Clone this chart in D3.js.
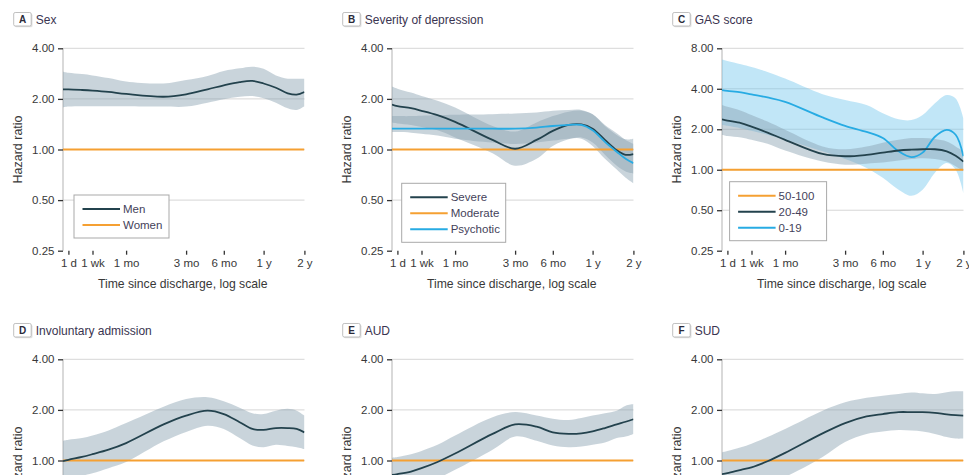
<!DOCTYPE html>
<html>
<head>
<meta charset="utf-8">
<script src="https://cdn.jsdelivr.net/npm/d3@7"></script>
<style>
  body { margin: 0; background: #fff; overflow: hidden; }
  svg text { font-family: "Liberation Sans", Arial, sans-serif; }
</style>
</head>
<body>
<svg id="chart" width="969" height="600"></svg>
<script>
// sample times (days since discharge) shared by all curves
const days = [0.65, 1, 3, 7, 14, 30, 60, 91, 135, 182, 240, 300, 365, 450, 550, 640, 730];
const xTickDays = [1, 7, 30, 91, 182, 365, 730];
const xTickLabels = ["1 d", "1 wk", "1 mo", "3 mo", "6 mo", "1 y", "2 y"];
const yTicks = [0.25, 0.5, 1, 2, 4];
const yTicksGas = [0.25, 0.5, 1, 2, 4, 8];
const refHR = [1, 1];
const refDays = [0.65, 730];

// A Sex
const menHR = [2.28, 2.28, 2.26, 2.24, 2.20, 2.14, 2.06, 2.13, 2.28, 2.41, 2.52, 2.56, 2.47, 2.33, 2.16, 2.12, 2.20];
const menHi = [2.90, 2.86, 2.81, 2.76, 2.66, 2.54, 2.47, 2.59, 2.74, 2.93, 3.04, 3.11, 3.02, 2.76, 2.64, 2.64, 2.64];
const menLo = [1.78, 1.80, 1.81, 1.81, 1.81, 1.81, 1.80, 1.80, 1.90, 1.99, 2.06, 2.08, 2.02, 1.90, 1.76, 1.72, 1.81];

// B Severity of depression
const severeHR = [1.85, 1.81, 1.76, 1.70, 1.60, 1.46, 1.14, 1.01, 1.14, 1.29, 1.40, 1.41, 1.33, 1.14, 0.99, 0.93, 0.94];
const severeHi = [2.37, 2.30, 2.18, 2.08, 1.95, 1.78, 1.38, 1.28, 1.45, 1.58, 1.68, 1.70, 1.62, 1.38, 1.22, 1.15, 1.16];
const severeLo = [1.45, 1.43, 1.40, 1.36, 1.30, 1.18, 0.95, 0.80, 0.88, 1.05, 1.15, 1.18, 1.10, 0.93, 0.80, 0.74, 0.72];
const psychHR = [1.33, 1.33, 1.33, 1.33, 1.33, 1.33, 1.33, 1.33, 1.35, 1.38, 1.40, 1.40, 1.30, 1.11, 0.97, 0.88, 0.83];
const psychHi = [1.58, 1.58, 1.58, 1.59, 1.60, 1.61, 1.62, 1.64, 1.66, 1.70, 1.72, 1.72, 1.62, 1.40, 1.25, 1.14, 1.08];
const psychLo = [1.27, 1.27, 1.26, 1.24, 1.21, 1.16, 1.10, 1.08, 1.10, 1.13, 1.16, 1.16, 1.05, 0.88, 0.76, 0.68, 0.63];

// C GAS score
const gas20HR = [2.37, 2.32, 2.22, 2.09, 1.89, 1.67, 1.31, 1.26, 1.29, 1.34, 1.39, 1.41, 1.42, 1.42, 1.37, 1.27, 1.15];
const gas20Hi = [3.03, 2.94, 2.75, 2.55, 2.28, 1.98, 1.49, 1.42, 1.49, 1.59, 1.67, 1.72, 1.72, 1.69, 1.62, 1.49, 1.37];
const gas20Lo = [1.82, 1.78, 1.74, 1.67, 1.56, 1.39, 1.15, 1.09, 1.11, 1.13, 1.17, 1.20, 1.22, 1.20, 1.15, 1.06, 0.97];
const gas0HR = [3.91, 3.86, 3.76, 3.63, 3.45, 3.20, 2.45, 2.12, 1.91, 1.72, 1.37, 1.24, 1.34, 1.76, 1.98, 1.82, 1.26];
const gas0Hi = [6.60, 6.45, 6.09, 5.80, 5.34, 4.77, 3.65, 3.30, 3.03, 2.63, 2.37, 2.34, 2.55, 3.12, 3.59, 3.39, 2.41];
const gas0Lo = [2.15, 2.12, 2.03, 1.95, 1.82, 1.67, 1.37, 1.20, 1.03, 0.87, 0.71, 0.64, 0.71, 0.95, 1.12, 1.00, 0.67];

// D Involuntary admission
const invHR = [0.99, 1.01, 1.05, 1.09, 1.16, 1.27, 1.64, 1.85, 1.98, 1.89, 1.69, 1.54, 1.52, 1.56, 1.56, 1.54, 1.47];
const invHi = [1.31, 1.33, 1.36, 1.41, 1.51, 1.67, 2.09, 2.32, 2.38, 2.25, 2.06, 1.91, 1.89, 1.98, 2.03, 1.98, 1.85];
const invLo = [0.76, 0.77, 0.81, 0.84, 0.90, 0.98, 1.30, 1.48, 1.61, 1.54, 1.36, 1.23, 1.20, 1.24, 1.22, 1.20, 1.17];

// E AUD
const audHR = [0.82, 0.83, 0.86, 0.90, 0.98, 1.10, 1.44, 1.64, 1.59, 1.47, 1.44, 1.45, 1.49, 1.56, 1.64, 1.70, 1.76];
const audHi = [1.04, 1.05, 1.09, 1.14, 1.24, 1.41, 1.81, 1.94, 1.85, 1.77, 1.74, 1.79, 1.85, 1.91, 1.98, 2.12, 2.17];
const audLo = [0.65, 0.66, 0.69, 0.72, 0.78, 0.88, 1.16, 1.39, 1.31, 1.23, 1.20, 1.21, 1.24, 1.28, 1.36, 1.39, 1.44];

// F SUD
const sudHR = [0.83, 0.84, 0.88, 0.91, 0.99, 1.11, 1.45, 1.67, 1.83, 1.89, 1.94, 1.94, 1.94, 1.92, 1.88, 1.86, 1.85];
const sudHi = [1.12, 1.14, 1.20, 1.26, 1.38, 1.54, 1.98, 2.22, 2.36, 2.43, 2.49, 2.54, 2.51, 2.49, 2.55, 2.58, 2.58];
const sudLo = [0.61, 0.62, 0.65, 0.68, 0.74, 0.80, 1.05, 1.29, 1.44, 1.49, 1.52, 1.51, 1.49, 1.44, 1.38, 1.35, 1.35];

const dark = "#23424d";
const orange = "#f5a032";
const cyan = "#27abe3";
const grayBand = "rgba(138,162,176,0.46)";
const blueBand = "rgba(118,199,238,0.45)";
const textCol = "#383838";

const plotW = 241.5;
const plotH = 202.4;
// positions of the log-scale breakpoints along the axis (the axis is compressed near day 0)
const xBreakPos = [0, 5.4, 29.5, 63.1, 123.1, 160.8, 200.6, 241.4];

const x = d3.scaleLog()
  .domain([0.65, 1, 7, 30, 91, 182, 365, 730])
  .range(xBreakPos);

const svg = d3.select("#chart");

const panels = [
  { letter: "A", title: "Sex", ox: 63, oy: 48.3, yTicks: yTicks,
    series: [{ hr: menHR, lo: menLo, hi: menHi, color: dark, band: grayBand }],
    legend: { x: 11, y: 146.7, w: 95, items: [["Men", dark], ["Women", orange]] } },
  { letter: "B", title: "Severity of depression", ox: 392, oy: 48.3, yTicks: yTicks,
    series: [{ hr: severeHR, lo: severeLo, hi: severeHi, color: dark, band: grayBand },
             { hr: psychHR, lo: psychLo, hi: psychHi, color: cyan, band: grayBand }],
    legend: { x: 9.7, y: 135, w: 104, items: [["Severe", dark], ["Moderate", orange], ["Psychotic", cyan]] } },
  { letter: "C", title: "GAS score", ox: 722, oy: 48.3, yTicks: yTicksGas,
    series: [{ hr: gas0HR, lo: gas0Lo, hi: gas0Hi, color: cyan, band: blueBand },
             { hr: gas20HR, lo: gas20Lo, hi: gas20Hi, color: dark, band: grayBand }],
    legend: { x: 7.6, y: 133.4, w: 97, items: [["50-100", orange], ["20-49", dark], ["0-19", cyan]] } },
  { letter: "D", title: "Involuntary admission", ox: 63, oy: 359.3, yTicks: yTicks,
    series: [{ hr: invHR, lo: invLo, hi: invHi, color: dark, band: grayBand }] },
  { letter: "E", title: "AUD", ox: 392, oy: 359.3, yTicks: yTicks,
    series: [{ hr: audHR, lo: audLo, hi: audHi, color: dark, band: grayBand }] },
  { letter: "F", title: "SUD", ox: 722, oy: 359.3, yTicks: yTicks,
    series: [{ hr: sudHR, lo: sudLo, hi: sudHi, color: dark, band: grayBand }] }
];

panels.forEach(function (p, i) {
  const g = svg.append("g").attr("transform", `translate(${p.ox}, ${p.oy})`);
  const yMax = d3.max(p.yTicks);
  const y = d3.scaleLog().base(2).domain([0.25, yMax]).range([plotH, 0]);

  // panel label box + title
  g.append("rect").attr("x", -48).attr("y", -34.5).attr("width", 17.5).attr("height", 13.5)
    .attr("rx", 1.5).attr("fill", "#e2e2e2");
  g.append("rect").attr("x", -49.3).attr("y", -35.8).attr("width", 17.5).attr("height", 13.5)
    .attr("rx", 1.5).attr("fill", "#fff").attr("stroke", "#b0b0b0").attr("stroke-width", 0.8);
  g.append("text").attr("x", -40.5).attr("y", -25.2).attr("text-anchor", "middle")
    .attr("font-size", 10).attr("font-weight", "bold").attr("fill", "#2b2b3a").text(p.letter);
  g.append("text").attr("x", -27.3).attr("y", -24.8)
    .attr("font-size", 12).attr("fill", "#3a3450").text(p.title);

  // gridlines
  g.append("g").selectAll("line").data(p.yTicks.filter((d) => d > 0.25)).enter()
    .append("line")
    .attr("x1", 0).attr("x2", plotW)
    .attr("y1", (d) => y(d)).attr("y2", (d) => y(d))
    .attr("stroke", "#d6d6d6").attr("stroke-width", 1);

  // y axis
  const yAxis = d3.axisLeft(y).tickValues(p.yTicks).tickFormat(d3.format(".2f"))
    .tickSize(5).tickPadding(3.5);
  const ya = g.append("g").call(yAxis);
  ya.select(".domain").attr("stroke", "#b3b3b3").attr("d", `M0,0V${plotH}`);
  ya.selectAll(".tick line").attr("stroke", "#333").attr("stroke-width", 1.3);
  ya.selectAll(".tick text").attr("font-size", 11.5).attr("fill", textCol)
    .attr("font-family", "Liberation Sans, Arial, sans-serif");

  // x axis
  const xAxis = d3.axisBottom(x).tickValues(xTickDays)
    .tickFormat((d, k) => xTickLabels[k]).tickSize(4).tickPadding(4.5);
  const xa = g.append("g").attr("transform", `translate(0, ${plotH})`).call(xAxis);
  xa.select(".domain").remove();
  xa.selectAll(".tick line").attr("stroke", "#333").attr("stroke-width", 1.3);
  xa.selectAll(".tick text").attr("font-size", 11.5).attr("fill", textCol)
    .attr("font-family", "Liberation Sans, Arial, sans-serif");

  // axis titles
  g.append("text").attr("transform", `translate(-41.5, ${plotH / 2}) rotate(-90)`)
    .attr("text-anchor", "middle").attr("font-size", 12.5).attr("fill", textCol)
    .text("Hazard ratio");
  g.append("text").attr("x", plotW / 2 - 1).attr("y", plotH + 37)
    .attr("text-anchor", "middle").attr("font-size", 12.2).attr("fill", textCol)
    .text("Time since discharge, log scale");

  // clip
  const clipId = "clip" + i;
  g.append("clipPath").attr("id", clipId).append("rect")
    .attr("x", 0).attr("y", 0).attr("width", plotW).attr("height", plotH);
  const plot = g.append("g").attr("clip-path", `url(#${clipId})`);

  const area = d3.area().curve(d3.curveCatmullRom)
    .x((d) => x(d.t)).y0((d) => y(d.lo)).y1((d) => y(d.hi));
  const line = d3.line().curve(d3.curveCatmullRom)
    .x((d) => x(d.t)).y((d) => y(d.v));

  p.series.forEach(function (s) {
    if (s.lo) {
      const rows = days.map((t, k) => ({ t: t, lo: s.lo[k], hi: s.hi[k] }));
      plot.append("path").datum(rows).attr("d", area).attr("fill", s.band);
    }
  });

  // reference group line
  plot.append("path")
    .datum(refDays.map((t, k) => ({ t: t, v: refHR[k] })))
    .attr("d", line).attr("fill", "none").attr("stroke", orange).attr("stroke-width", 1.9);

  p.series.forEach(function (s) {
    const rows = days.map((t, k) => ({ t: t, v: s.hr[k] }));
    plot.append("path").datum(rows).attr("d", line)
      .attr("fill", "none").attr("stroke", s.color).attr("stroke-width", 1.8);
  });

  // legend
  if (p.legend) {
    const L = p.legend;
    const rowH = 16;
    const h = L.items.length * rowH + 11;
    const lg = g.append("g").attr("transform", `translate(${L.x}, ${L.y})`);
    lg.append("rect").attr("width", L.w).attr("height", h)
      .attr("fill", "#fff").attr("stroke", "#a9a9a9").attr("stroke-width", 1);
    L.items.forEach(function (it, k) {
      const yy = 14 + k * rowH;
      lg.append("line").attr("x1", 8.5).attr("x2", 46).attr("y1", yy).attr("y2", yy)
        .attr("stroke", it[1]).attr("stroke-width", 1.9);
      lg.append("text").attr("x", 49).attr("y", yy + 4)
        .attr("font-size", 11.5).attr("fill", "#443f5a").text(it[0]);
    });
  }
});
</script>
</body>
</html>
